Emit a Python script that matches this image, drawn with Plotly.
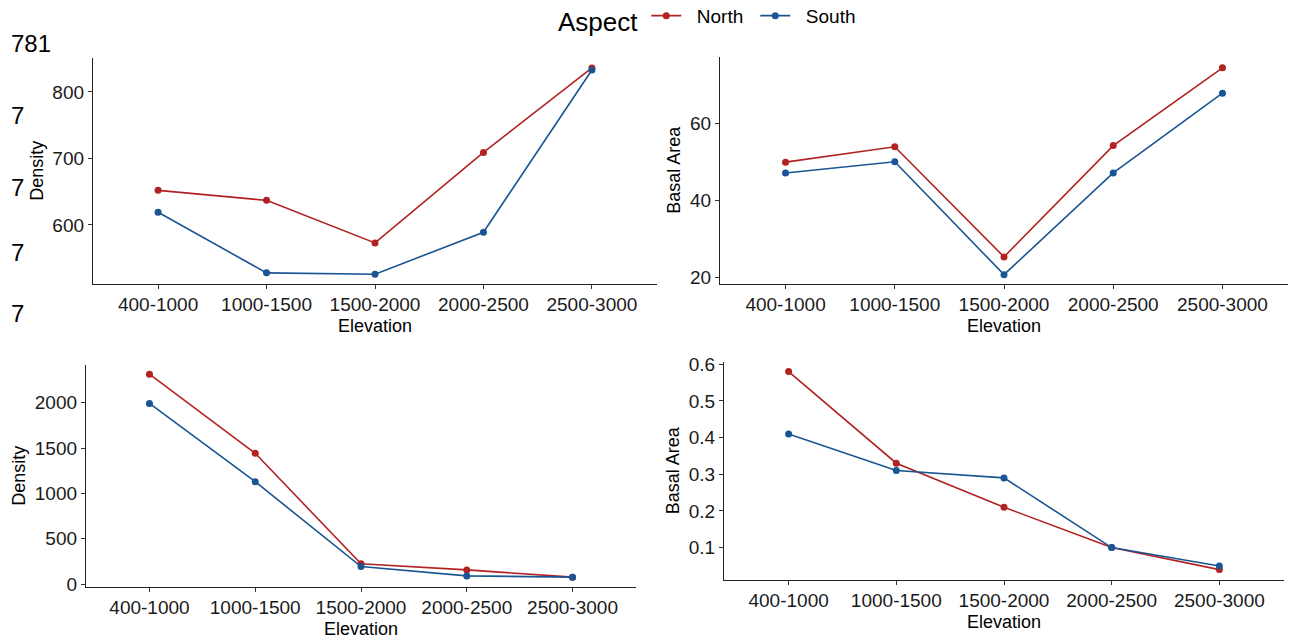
import plotly.graph_objects as go

W, H = 1291, 644

elevation = ["400-1000", "1000-1500", "1500-2000", "2000-2500", "2500-3000"]

# Panel 1 (top-left): Density
p1_north = [652, 637, 573, 709, 836]
p1_south = [619, 528, 526, 589, 833]
# Panel 2 (top-right): Basal Area
p2_north = [49.9, 53.9, 25.3, 54.2, 74.4]
p2_south = [47.1, 50.0, 20.7, 47.1, 67.8]
# Panel 3 (bottom-left): Density
p3_north = [2316, 1443, 224, 157, 77]
p3_south = [1993, 1130, 194, 91, 77]
# Panel 4 (bottom-right): Basal Area
p4_north = [0.58, 0.33, 0.21, 0.10, 0.04]
p4_south = [0.41, 0.31, 0.29, 0.10, 0.05]

RED = "#B22222"
BLUE = "#1A5593"

panels = [
    # (north, south, ytitle, yrange, tickvals, xpx, ypx)
    (p1_north, p1_south, "Density", [512, 851], [600, 700, 800], (93, 657), (58, 283.5)),
    (p2_north, p2_south, "Basal Area", [18.4, 77.2], [20, 40, 60], (720, 1288), (57, 283.5)),
    (p3_north, p3_south, "Density", [-26, 2417], [0, 500, 1000, 1500, 2000], (86, 636), (365, 586.5)),
    (p4_north, p4_south, "Basal Area", [0.013, 0.606], [0.1, 0.2, 0.3, 0.4, 0.5, 0.6], (724, 1284), (362, 579.5)),
]

fig = go.Figure()
layout = {}
FONT = "Liberation Sans, Arial, sans-serif"
for i, (n, s, ytitle, yr, tv, xpx, ypx) in enumerate(panels, start=1):
    xa = "x" if i == 1 else f"x{i}"
    ya = "y" if i == 1 else f"y{i}"
    for vals, name, col in ((n, "North", RED), (s, "South", BLUE)):
        fig.add_trace(go.Scatter(
            x=elevation, y=vals, mode="lines+markers", name="\u00a0\u00a0" + name,
            line=dict(color=col, width=1.6), marker=dict(color=col, size=7),
            xaxis=xa, yaxis=ya, showlegend=(i == 1), legendgroup=name,
        ))
    xkey = "xaxis" if i == 1 else f"xaxis{i}"
    ykey = "yaxis" if i == 1 else f"yaxis{i}"
    layout[xkey] = dict(
        domain=[xpx[0] / W, xpx[1] / W], anchor=ya, automargin=False,
        type="category", categoryorder="array", categoryarray=elevation,
        range=[-0.6, 4.6], showline=True, linecolor="#222", linewidth=1.3,
        ticks="outside", ticklen=4, tickcolor="#333", tickwidth=1,
        showgrid=False, zeroline=False,
        tickfont=dict(family=FONT, size=19, color="#1a1a1a"),
        title=dict(text="Elevation", font=dict(family=FONT, size=18, color="#000"), standoff=4),
    )
    layout[ykey] = dict(
        domain=[1 - ypx[1] / H, 1 - ypx[0] / H], anchor=xa, automargin=False,
        range=yr, tickvals=tv, showline=True, linecolor="#222", linewidth=1.3,
        ticks="outside", ticklen=4, tickcolor="#333", tickwidth=1,
        showgrid=False, zeroline=False,
        tickfont=dict(family=FONT, size=19, color="#1a1a1a"),
        title=dict(text=ytitle, font=dict(family=FONT, size=18, color="#000"), standoff=4),
    )

# stray clipped labels on the far left
stray = [("781", 31, 43), ("7", 17, 115), ("7", 17, 187), ("7", 17, 253), ("7", 17, 313)]
annotations = []
for txt, xp, yp in stray:
    annotations.append(dict(
        text=txt, x=xp / W, y=1 - yp / H, xref="paper", yref="paper",
        showarrow=False, xanchor="center", yanchor="middle",
        font=dict(family=FONT, size=24, color="#000"),
    ))

fig.update_layout(
    **layout,
    width=W, height=H,
    margin=dict(l=0, r=0, t=0, b=0, autoexpand=False),
    paper_bgcolor="white", plot_bgcolor="white",
    showlegend=True,
    legend=dict(
        orientation="h", x=556 / W, xanchor="left", y=1.005, yanchor="top",
        title=dict(text="Aspect", side="left", font=dict(family=FONT, size=26, color="#000")),
        font=dict(family=FONT, size=19, color="#000"),
        entrywidth=64, bgcolor="rgba(0,0,0,0)",
    ),
    annotations=annotations,
)

fig.write_html("out.html")
